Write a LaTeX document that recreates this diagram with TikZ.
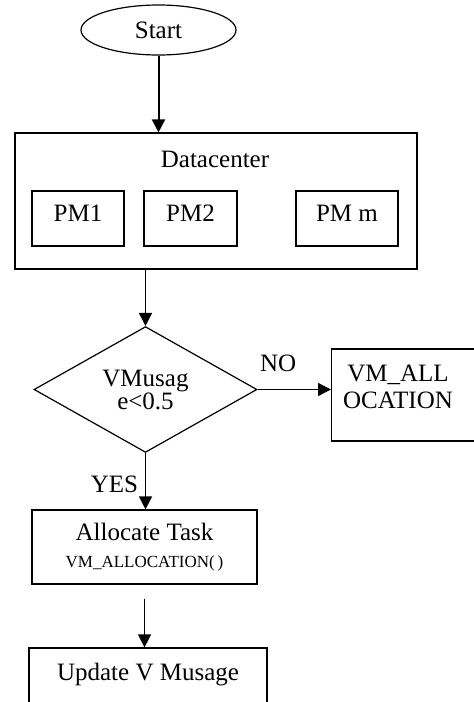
\documentclass[tikz,border=0pt]{standalone}
\usepackage{fontspec}
\setmainfont{Liberation Serif}
\usetikzlibrary{shapes.geometric,arrows.meta}

\newcommand{\smalltextfont}{\fontsize{8.5}{10}\selectfont}

\tikzset{
	box/.style={rectangle, draw, line width=0.6pt, inner sep=0pt},
	decision/.style={diamond, draw, line width=0.6pt, inner sep=0pt},
	flow/.style={-{Triangle[width=6.5pt,length=6.5pt]}, line width=0.7pt}
}

\begin{document}
\begin{tikzpicture}[x=0.5pt, y=-0.5pt, font=\fontsize{12.5}{13.5}\selectfont]

	\useasboundingbox (0,0) rectangle (473,702);

	\node 	(start)		at	(158.5,30) 	[ellipse, draw, line width=0.6pt, inner sep=0pt, minimum width=77.5pt, minimum height=25pt]{Start};

	% datacenter with its physical machines
	\node 	(dc)		at	(216,201) 	[box, minimum width=201pt, minimum height=68pt]{};
	\node 	(dctitle)	at	(215,159) 	{Datacenter};

	\node 	(pm1)		at	(78,218.5) 	[box, minimum width=46pt, minimum height=27.5pt, text depth=5.5pt]{PM1};
	\node 	(pm2)		at	(190.5,218.5) 	[box, minimum width=46.5pt, minimum height=27.5pt, text depth=5.5pt]{PM2};
	\node 	(pmm)		at	(347,218.5) 	[box, minimum width=51pt, minimum height=27.5pt, text depth=5.5pt]{PM m};

	\node 	(dec)		at	(145.5,389.5) 	[decision, minimum width=111.5pt, minimum height=61.5pt, align=center]{VMusag\\[-2pt]e<0.5};

	% runs past the right edge of the page
	\node 	(vmall)		at	(331,395) 	[box, anchor=west, minimum width=90pt, minimum height=46pt]{};
	\node 	(vmalltxt)	at	(398,386.5) 	[align=center]{VM\_ALL\\OCATION};

	\node 	(alloc)		at	(144.5,547) 	[box, minimum width=112.5pt, minimum height=37pt, align=center]{Allocate Task\\{\smalltextfont VM\_ALLOCATION(\,)}};

	\node 	(update)	at	(148,677) 	[box, minimum width=119pt, minimum height=29pt, text depth=5pt]{Update V Musage};

%	\node 	(stop)		at	(148,760) 	[ellipse, draw]{Stop};

	\draw[flow, line width=1pt]	(start)	--	(start |- dc.north);
	\draw[flow]	(dec |- dc.south)	--	(dec.north);
	\draw[flow]	(dec.east)	to	node[above, pos=0.28, yshift=5pt]{NO}	(dec.east -| vmall.west);
	\draw[flow]	(dec.south)	to	node[left, pos=0.56]{YES}	(dec.south |- alloc.north);
	\draw[flow, shorten <=7pt]	(alloc.south)	--	(alloc.south |- update.north);

\end{tikzpicture}
\end{document}
